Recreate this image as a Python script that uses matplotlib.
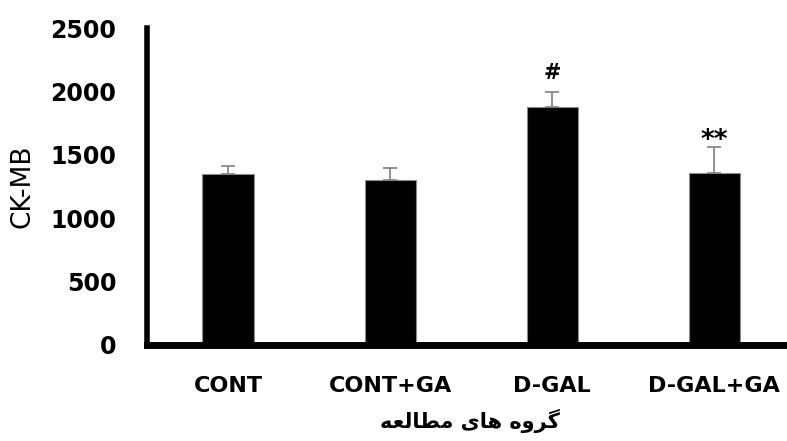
import numpy as np
import matplotlib.pyplot as plt

# data
groups = ['CONT', 'CONT+GA', 'D-GAL', 'D-GAL+GA']
ckmb = [1345, 1300, 1880, 1360]
ckmb_err = [65, 95, 115, 200]
marks = ['', '', '#', '**']
yticks = [0, 500, 1000, 1500, 2000, 2500]

# Persian x label "گروه های مطالعه", written in presentation forms in visual order
# because matplotlib does no Arabic shaping / bidi
xlabel_fa = ('\uFEEA\uFECC\uFEDF\uFE8E\uFEC4\uFEE3 '
             '\uFBFC\uFE8E\uFEEB '
             '\uFEE9\uFEED\uFEAE\uFB94')

fig = plt.figure(figsize=(7.87, 4.41), dpi=100)
ax = fig.add_axes([0.1868, 0.2177, 0.8234, 0.7188])

x = np.arange(len(groups))
ax.bar(x, ckmb, width=0.315, color='black', edgecolor='#8c8c8c', linewidth=0.8, zorder=2)
ax.errorbar(x, ckmb, yerr=[np.zeros(len(ckmb)), ckmb_err], fmt='none',
            ecolor='#7f7f7f', elinewidth=1.2, capsize=5, capthick=1.2, zorder=3)

mark_off = {'#': 150, '**': 50}
mark_size = {'#': 15, '**': 19}
for xi, v, e, m in zip(x, ckmb, ckmb_err, marks):
    if m:
        ax.text(xi, v + e + mark_off[m], m, ha='center', va='center',
                fontsize=mark_size[m], fontweight='bold')

ax.set_xlim(-0.5, 3.5)
ax.set_ylim(0, 2500)
ax.set_yticks(yticks)
ax.set_xticks(x)
ax.set_xticklabels(groups)
ax.tick_params(axis='y', length=0, pad=22, labelsize=17)
ax.tick_params(axis='x', length=0, pad=22, labelsize=16)
for lab in ax.get_xticklabels() + ax.get_yticklabels():
    lab.set_fontweight('bold')

ax.spines['top'].set_visible(False)
ax.spines['right'].set_visible(False)
ax.spines['left'].set_linewidth(4)
ax.spines['bottom'].set_linewidth(5)

ax.set_ylabel('CK-MB', fontsize=19)
ax.yaxis.set_label_coords(-0.172, 0.5)
ax.set_xlabel(xlabel_fa, fontsize=15, fontweight='bold',
              family=['DejaVu Sans'])
ax.xaxis.set_label_coords(0.498, -0.2)

fig.savefig('out.png', dpi=100)
